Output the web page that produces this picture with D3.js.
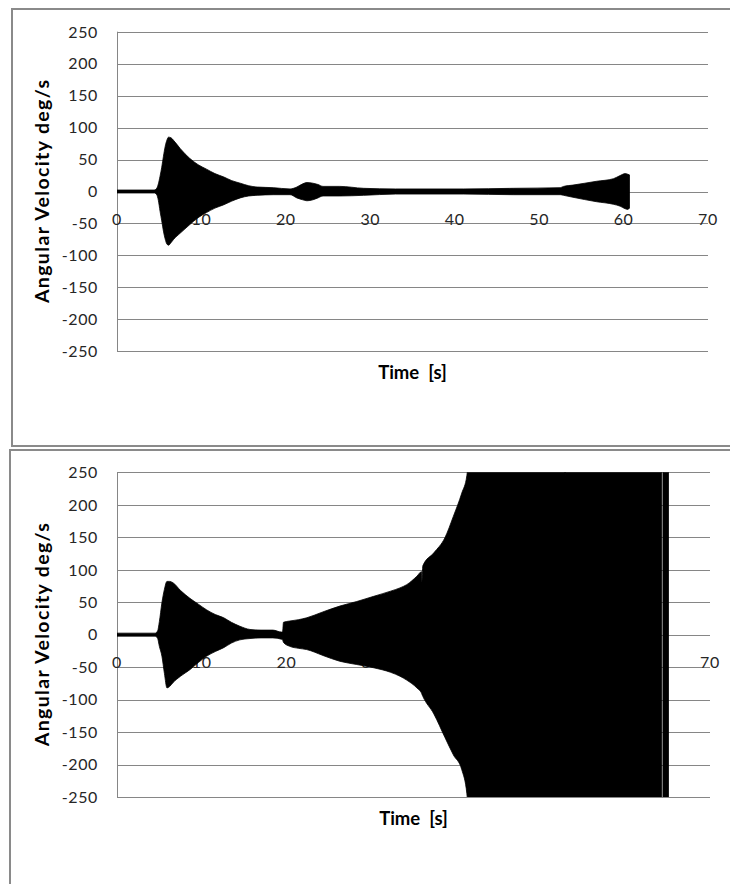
<!DOCTYPE html>
<html><head><meta charset="utf-8">
<script src="https://cdn.jsdelivr.net/npm/d3@7"></script>
<style>body{margin:0;background:#fff}svg{display:block}</style>
</head><body><svg id="c" width="730" height="884"></svg>
<script>
// ---- data (envelope of the oscillating signal) ----
const yTicks = [250, 200, 150, 100, 50, 0, -50, -100, -150, -200, -250];
const xTicks = [0, 10, 20, 30, 40, 50, 60, 70];
const xTitle = "Time  [s]";
const yTitle = "Angular Velocity deg/s";

const topTime  = [0, 4.4, 4.7, 4.9, 5.1, 5.3, 5.5, 5.7, 5.9, 6.1, 6.4, 6.7, 7.5, 8.6, 9.6, 10.6, 11.6, 12.6, 13.6, 14.6, 15.6, 16.6, 18.5, 20.5, 21.3, 22.0, 22.5, 23.2, 23.8, 24.4, 26.4, 29.2, 33, 41, 47, 52.5, 52.9, 54, 56.8, 58.8, 59.6, 60.2, 60.5, 60.7];
const topUpper = [2.3, 2.3, 5, 12, 24, 38, 55, 70, 80, 85, 84, 80, 67, 52, 42, 35, 28, 23, 17, 13, 9, 7, 6, 4, 7, 12, 14, 13, 11, 8, 8, 5, 4, 4, 5, 6, 8, 10, 16, 20, 25, 28, 27, 26];
const topLower = [-2.3, -2.3, -5, -14, -31, -46, -62, -74, -82, -84, -80, -75, -65, -52, -41, -33, -26, -21, -15, -10, -7, -6, -5, -5, -10, -13, -14.5, -13, -10, -7, -7, -6, -4, -4, -5, -5, -6, -9, -16, -20, -23, -27, -28, -26];

const botTime  = [0, 4.5, 4.8, 5.0, 5.3, 5.6, 5.9, 6.2, 6.6, 7.5, 8.6, 9.6, 10.6, 11.6, 12.6, 13.5, 14.5, 15.7, 17, 18.4, 19.4, 19.55, 19.65, 20.4, 21.4, 22.4, 24.3, 26.3, 28.3, 30.3, 32.3, 33.4, 34.2, 35.4, 35.95, 36.0, 36.1, 37.4, 38.7, 39.7, 40.7, 41.3, 41.6, 42.5, 52.88, 52.9, 52.92, 64.3, 64.31, 64.44, 64.45, 65.1];
const botUpper = [2.3, 2.3, 6, 20, 49, 70, 82, 82, 80, 68, 56, 47, 38, 31, 26, 19, 13, 8, 7, 7, 4, 5, 19, 21, 23, 26, 35, 44, 51, 59, 67, 72, 77, 90, 97, 80, 106, 126, 149, 182, 218, 245, 280, 400, 400, 237, 400, 400, null, null, 400, 400];
const botLower = [-2.3, -2.3, -6, -18, -33, -60, -82, -80, -74, -64, -54, -43, -33, -26, -20, -13, -8, -6, -5, -5, -7, -8, -12, -18, -21, -23, -32, -41, -46, -51, -58, -64, -70, -82, -90, -92, -95, -122, -158, -185, -208, -245, -290, -400, -400, -400, -400, -400, null, null, -400, -400];

// ---- drawing ----
const svg = d3.select("#c");
const GRID = "#868686", BORDER = "#8a8a8a", FONT = "Lato, 'Open Sans', sans-serif";

// frame lines of the two chart panels
const frame = svg.append("g").attr("fill", "none").attr("stroke", BORDER).attr("stroke-width", 2);
frame.append("path").attr("d", "M730,9 H12 V446 H730");
frame.append("path").attr("d", "M730,450 H10 V884");

function chart(cfg, time, upper, lower, id) {
  const x = d3.scaleLinear().domain([0, 70]).range([cfg.x0, cfg.x1]);
  const y = d3.scaleLinear().domain([-250, 250]).range([cfg.y1, cfg.y0]);
  const g = svg.append("g");
  const data = time.map((t, i) => ({t, u: upper[i], l: lower[i]}));

  g.append("clipPath").attr("id", id).append("rect")
    .attr("x", cfg.x0).attr("y", cfg.y0).attr("width", cfg.x1 - cfg.x0).attr("height", cfg.y1 - cfg.y0);

  // horizontal gridlines
  g.append("g").selectAll("line").data(yTicks).join("line")
    .attr("x1", cfg.x0).attr("x2", cfg.x1)
    .attr("y1", d => Math.round(y(d)) + 0.5).attr("y2", d => Math.round(y(d)) + 0.5)
    .attr("stroke", GRID).attr("stroke-width", 1);
  // vertical axis line
  g.append("line").attr("x1", cfg.x0 + 0.5).attr("x2", cfg.x0 + 0.5)
    .attr("y1", cfg.y0).attr("y2", cfg.y1).attr("stroke", GRID);

  // x tick labels (sit at the zero line, under the data)
  g.append("g").selectAll("text").data(xTicks).join("text")
    .attr("x", d => x(d)).attr("y", y(0) + 33)
    .attr("text-anchor", "middle").attr("font-family", FONT).attr("font-size", 16)
    .attr("letter-spacing", 0.6).attr("fill", "#262626").text(d => d);

  // data envelope
  const area = d3.area()
    .defined(d => d.u !== null)
    .curve(d3.curveMonotoneX)
    .x(d => x(d.t)).y0(d => y(d.l)).y1(d => y(d.u));
  g.append("path").datum(data).attr("clip-path", `url(#${id})`)
    .attr("d", area).attr("fill", "#000").attr("stroke", "#000").attr("stroke-width", 0.8);

  // y tick labels
  g.append("g").selectAll("text").data(yTicks).join("text")
    .attr("x", 98).attr("y", d => y(d) + 5.8)
    .attr("text-anchor", "end").attr("font-family", FONT).attr("font-size", 16)
    .attr("letter-spacing", 0.6).attr("fill", "#262626").text(d => d);

  // titles
  g.append("text").attr("x", (cfg.x0 + cfg.x1) / 2).attr("y", cfg.y1 + 28)
    .attr("text-anchor", "middle").attr("font-family", FONT).attr("font-weight", "bold")
    .attr("font-size", 18.5).attr("fill", "#000").attr("xml:space", "preserve")
    .style("white-space", "pre").text(xTitle);
  const cy = (cfg.y0 + cfg.y1) / 2;
  g.append("text").attr("transform", `translate(49,${cy}) rotate(-90)`)
    .attr("text-anchor", "middle").attr("font-family", FONT).attr("font-weight", "bold")
    .attr("font-size", 19.5).attr("fill", "#000")
    .attr("textLength", 223).attr("lengthAdjust", "spacing").text(yTitle);
}

chart({x0: 117, x1: 708, y0: 31.7, y1: 351.3}, topTime, topUpper, topLower, "clipTop");
chart({x0: 117, x1: 710, y0: 472.3, y1: 797}, botTime, botUpper, botLower, "clipBot");
</script>
</body></html>
